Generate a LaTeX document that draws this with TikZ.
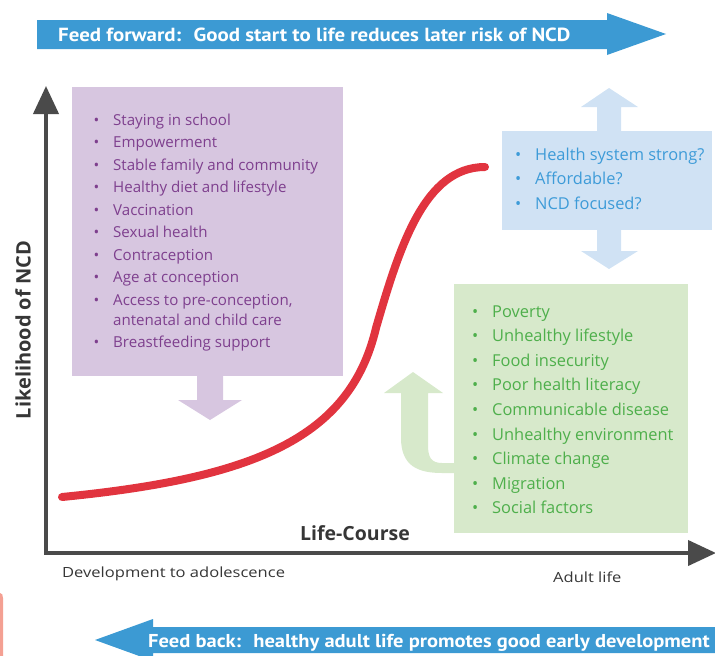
\documentclass[tikz,border=0pt]{standalone}
\usepackage{fontspec}
\setmainfont{Open Sans}
\newfontfamily\bannerfont[FakeStretch=1.1]{PT Sans}
\newfontfamily\tickfont[FakeStretch=1.18]{Open Sans}
\usetikzlibrary{positioning,arrows.meta}

\definecolor{feedblue}{HTML}{3C9AD3}
\definecolor{axisgray}{HTML}{4A4A4A}
\definecolor{labelgray}{HTML}{363636}
\definecolor{purplefill}{HTML}{D7C6E0}
\definecolor{purpletext}{HTML}{7E3F8E}
\definecolor{bluefill}{HTML}{D0E2F4}
\definecolor{bluetext}{HTML}{3D9BD8}
\definecolor{greenfill}{HTML}{D7E9CB}
\definecolor{greentext}{HTML}{4EAF4B}
\definecolor{curvered}{HTML}{E1343F}
\definecolor{salmon}{HTML}{F4A093}

\newcommand{\itemdot}{\llap{\textbullet\hspace{14pt}}}

\tikzset{
  banner/.style={anchor=base west, inner sep=0, text=white,
    font=\bannerfont\bfseries\fontsize{19}{19}\selectfont},
  box/.style={anchor=north west, inner sep=0, draw=none},
  listline/.style={anchor=base west, inner sep=0,
    font=\fontsize{16.4}{16.4}\selectfont},
  smalllist/.style={listline, font=\fontsize{15.1}{15.1}\selectfont},
  axislabel/.style={inner sep=0, text=labelgray,
    font=\bfseries\fontsize{19.5}{19.5}\selectfont},
  ticklabel/.style={anchor=base west, inner sep=0, text=labelgray,
    font=\tickfont\fontsize{14}{14}\selectfont},
  axis/.style={axisgray, line width=4, -{Triangle[length=28pt,width=25pt]}},
}

\begin{document}
\begin{tikzpicture}[x=1pt,y=-1pt]
  \useasboundingbox (0,0) rectangle (715,656);
  \clip (0,0) rectangle (715,656);

  % feed forward / feed back banners
  \fill[feedblue] (37,20) -- (607,20) -- (607,13) -- (666,34) -- (607,55)
    -- (607,49) -- (37,49) -- cycle;
  \node[banner] (forward) at (58,41)
    {Feed forward:~ Good start to life reduces later risk of NCD};
  \fill[feedblue] (715,627) -- (153,627) -- (153,619) -- (95,640) -- (153,661)
    -- (153,653) -- (715,653) -- cycle;
  \node[banner, font=\bannerfont\bfseries\fontsize{18.65}{18.65}\selectfont]
    (back) at (148,647)
    {Feed back:~ healthy adult life promotes good early development};
  \fill[salmon] (0,656) -- (0,593) .. controls (2,593) and (3,595) .. (3,598)
    -- (3,656) -- cycle;

  % boxes
  \node[box, fill=purplefill, minimum width=271, minimum height=289]
    (purplebox) at (72,87) {};
  \node[box, fill=bluefill, minimum width=210, minimum height=99]
    (bluebox) at (502,131) {};
  \node[box, fill=greenfill, minimum width=234, minimum height=249]
    (greenbox) at (454,284) {};

  % block arrows
  \fill[purplefill] (197,376) -- (197,400) -- (178,400) -- (210,420)
    -- (242,400) -- (223,400) -- (223,376) -- cycle;
  \fill[bluefill] (597,131) -- (597,107) -- (581,107) -- (609,88)
    -- (638,107) -- (621,107) -- (621,131) -- cycle;
  \fill[bluefill] (597,230) -- (597,251) -- (581,251) -- (609,269)
    -- (638,251) -- (621,251) -- (621,230) -- cycle;
  \fill[greenfill] (454,463) -- (442,463) .. controls (431,463) and (428,457) .. (428,445)
    -- (428,393) -- (443,393) -- (413,372) -- (384,393) -- (401,393) -- (401,438)
    .. controls (401,466) and (418,473) .. (442,473) -- (454,473) -- cycle;

  % axes
  \coordinate (origin) at (46,553);
  \coordinate (ytip) at (46,86);
  \coordinate (xtip) at (716,553);
  \draw[axis] ([yshift=2]origin) -- (ytip);
  \draw[axis] ([xshift=-2]origin) -- (xtip);
  \node[axislabel, rotate=90, font=\bfseries\fontsize{20}{20}\selectfont]
    (ylabel) at (23,330) {Likelihood of NCD};
  \node[axislabel, anchor=base] (xlabel) at (355,540) {Life-Course};
  \node[ticklabel] (early) at (62,577) {Development to adolescence};
  \node[ticklabel] (adult) at (553,582) {Adult life};

  % NCD risk curve
  \coordinate (start) at (62,497);
  \coordinate (bend) at (376,328);
  \coordinate (plateau) at (485,167);
  \draw[curvered, line width=8, line cap=round]
    (start) .. controls (255,478) and (350,438) .. (bend)
    .. controls (400,245) and (425,167) .. (plateau);

  % purple list
  \begin{scope}[every node/.style={smalllist, text=purpletext}]
    \node (p1) at (113,125) {\itemdot Staying in school};
    \node (p2) at (113,147.5) {\itemdot Empowerment};
    \node (p3) at (113,170) {\itemdot Stable family and community};
    \node (p4) at (113,192.5) {\itemdot Healthy diet and lifestyle};
    \node (p5) at (113,215) {\itemdot Vaccination};
    \node (p6) at (113,237.5) {\itemdot Sexual health};
    \node (p7) at (113,260) {\itemdot Contraception};
    \node (p8) at (113,282.5) {\itemdot Age at conception};
    \node (p9) at (113,305) {\itemdot Access to pre-conception,};
    \node (p9b) at (113,325) {antenatal and child care};
    \node (p10) at (113,347.5) {\itemdot Breastfeeding support};
  \end{scope}

  % blue list
  \begin{scope}[every node/.style={listline, text=bluetext}]
    \node (b1) at (535,160) {\itemdot Health system strong?};
    \node (b2) at (535,184.5) {\itemdot Affordable?};
    \node (b3) at (535,209) {\itemdot NCD focused?};
  \end{scope}

  % green list
  \begin{scope}[every node/.style={listline, text=greentext}]
    \node (g1) at (492,317) {\itemdot Poverty};
    \node (g2) at (492,341.6) {\itemdot Unhealthy lifestyle};
    \node (g3) at (492,366.2) {\itemdot Food insecurity};
    \node (g4) at (492,390.8) {\itemdot Poor health literacy};
    \node (g5) at (492,415.4) {\itemdot Communicable disease};
    \node (g6) at (492,440) {\itemdot Unhealthy environment};
    \node (g7) at (492,464.6) {\itemdot Climate change};
    \node (g8) at (492,489.2) {\itemdot Migration};
    \node (g9) at (492,513.8) {\itemdot Social factors};
  \end{scope}
\end{tikzpicture}
\end{document}
